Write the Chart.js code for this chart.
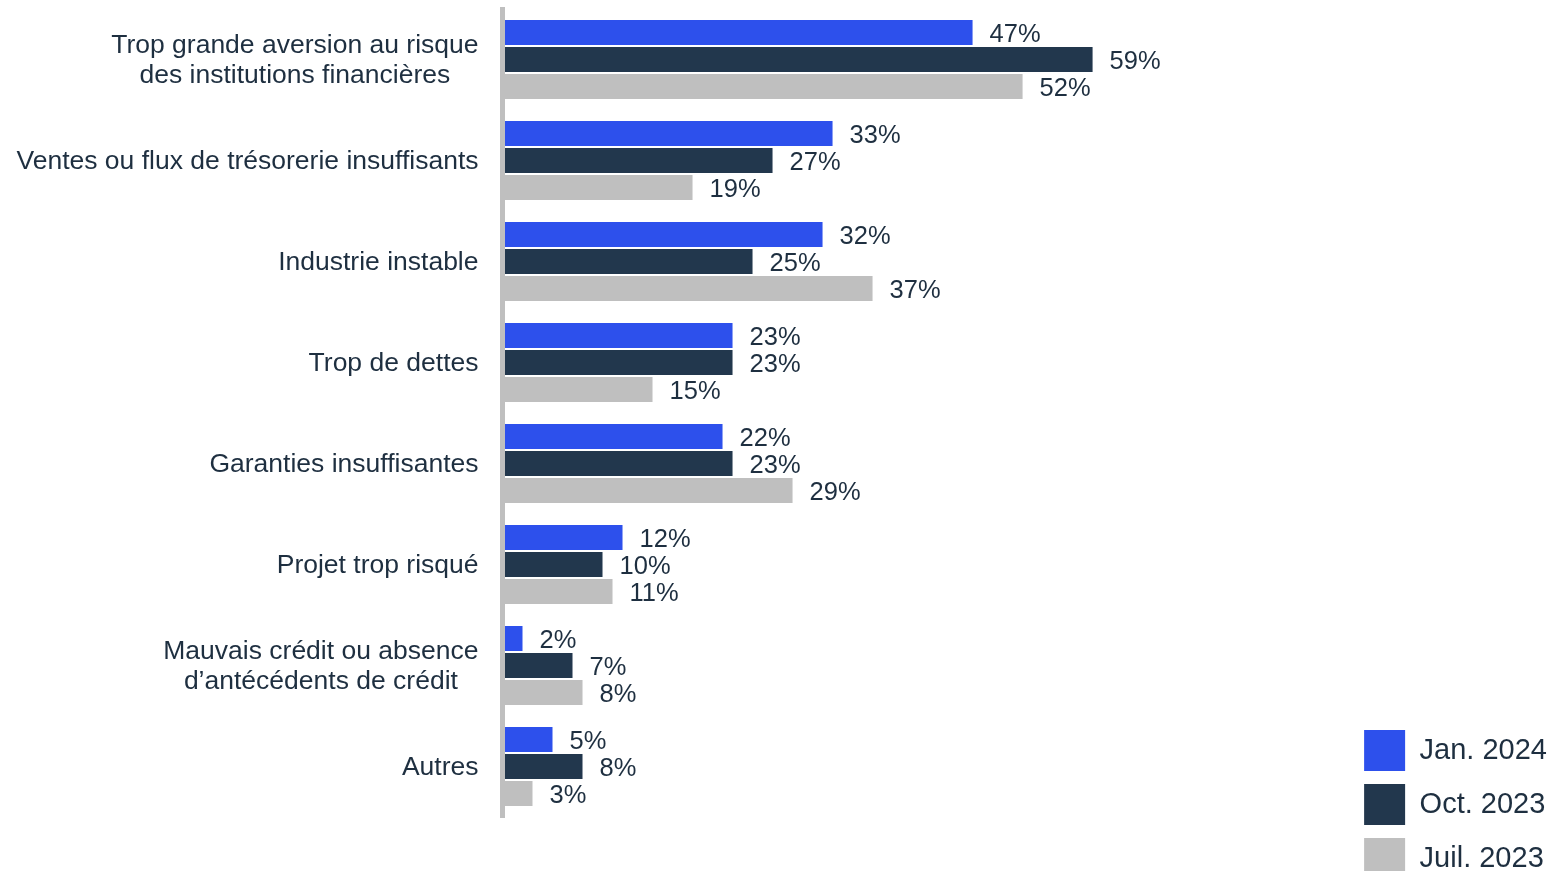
<!DOCTYPE html>
<html lang="fr">
<head>
<meta charset="utf-8">
<title>Raisons du refus de financement</title>
<script src="https://cdn.jsdelivr.net/npm/chart.js@4/dist/chart.umd.min.js"></script>
<style>
  html, body { margin: 0; padding: 0; background: #fff; }
  #wrap { position: relative; width: 1567px; height: 871px; overflow: hidden; }
</style>
</head>
<body>
<div id="wrap"><canvas id="chart"></canvas></div>
<script>
// Categories (multi-line ones as arrays)
const categories = [
    ['Trop grande aversion au risque', 'des institutions financières'],
    'Ventes ou flux de trésorerie insuffisants',
    'Industrie instable',
    'Trop de dettes',
    'Garanties insuffisantes',
    'Projet trop risqué',
    ['Mauvais crédit ou absence', 'd’antécédents de crédit'],
    'Autres'
];

const seriesNames = ['Jan. 2024', 'Oct. 2023', 'Juil. 2023'];
const jan2024 = [47, 33, 32, 23, 22, 12, 2, 5];
const oct2023 = [59, 27, 25, 23, 23, 10, 7, 8];
const juil2023 = [52, 19, 37, 15, 29, 11, 8, 3];

const seriesColors = ['#2d50ec', '#22374d', '#bfbfbf'];
const textColor = '#1e2f40';
const FONT = "'Liberation Sans', Arial, sans-serif";

Chart.defaults.font.family = FONT;
Chart.defaults.color = textColor;

// value labels at the end of each bar
const valueLabels = {
    id: 'valueLabels',
    afterDatasetsDraw(chart) {
        const ctx = chart.ctx;
        ctx.save();
        ctx.font = '25.5px ' + FONT;
        ctx.fillStyle = textColor;
        ctx.textAlign = 'left';
        ctx.textBaseline = 'middle';
        chart.data.datasets.forEach((ds, i) => {
            const meta = chart.getDatasetMeta(i);
            meta.data.forEach((bar, j) => {
                ctx.fillText(ds.data[j] + '%', bar.x + 17, bar.y + 2);
            });
        });
        ctx.restore();
    }
};

// category labels: block right-aligned, lines centred within the block
const categoryLabels = {
    id: 'categoryLabels',
    afterDraw(chart) {
        const ctx = chart.ctx;
        const yScale = chart.scales.y;
        const rightEdge = yScale.right - 24;
        const lineHeight = 30;
        ctx.save();
        ctx.font = '26.5px ' + FONT;
        ctx.fillStyle = textColor;
        ctx.textAlign = 'center';
        ctx.textBaseline = 'middle';
        categories.forEach((cat, i) => {
            const lines = Array.isArray(cat) ? cat : [cat];
            const widest = Math.max(...lines.map(l => ctx.measureText(l).width));
            const cx = rightEdge - widest / 2;
            const cy = yScale.getPixelForTick(i);
            lines.forEach((line, k) => {
                const y = cy + (k - (lines.length - 1) / 2) * lineHeight + 1;
                ctx.fillText(line, cx, y);
            });
        });
        ctx.restore();
    }
};

const ctx = document.getElementById('chart').getContext('2d');
new Chart(ctx, {
    type: 'bar',
    data: {
        labels: categories,
        datasets: [
            { label: seriesNames[0], data: jan2024, backgroundColor: seriesColors[0] },
            { label: seriesNames[1], data: oct2023, backgroundColor: seriesColors[1] },
            { label: seriesNames[2], data: juil2023, backgroundColor: seriesColors[2] }
        ]
    },
    options: {
        indexAxis: 'y',
        responsive: true,
        maintainAspectRatio: false,
        animation: false,
        datasets: {
            bar: { categoryPercentage: 0.802, barPercentage: 0.926, borderWidth: 0 }
        },
        layout: { padding: { top: 9, right: 10, bottom: -21, left: 0 } },
        plugins: {
            tooltip: { enabled: false },
            legend: {
                position: 'right',
                align: 'end',
                labels: {
                    boxWidth: 41,
                    boxHeight: 41,
                    padding: 13,
                    color: textColor,
                    font: { size: 29, family: FONT }
                }
            }
        },
        scales: {
            x: {
                min: 0,
                max: 84.85,
                ticks: { display: false },
                grid: { display: false },
                border: { display: false },
                afterFit(scale) { scale.height = 75; }
            },
            y: {
                ticks: { display: false },
                grid: { display: false, drawTicks: false },
                border: { display: true, color: '#bfbfbf', width: 5, z: 1 },
                afterFit(scale) { scale.width = 502.5; }
            }
        }
    },
    plugins: [valueLabels, categoryLabels]
});
</script>
</body>
</html>
